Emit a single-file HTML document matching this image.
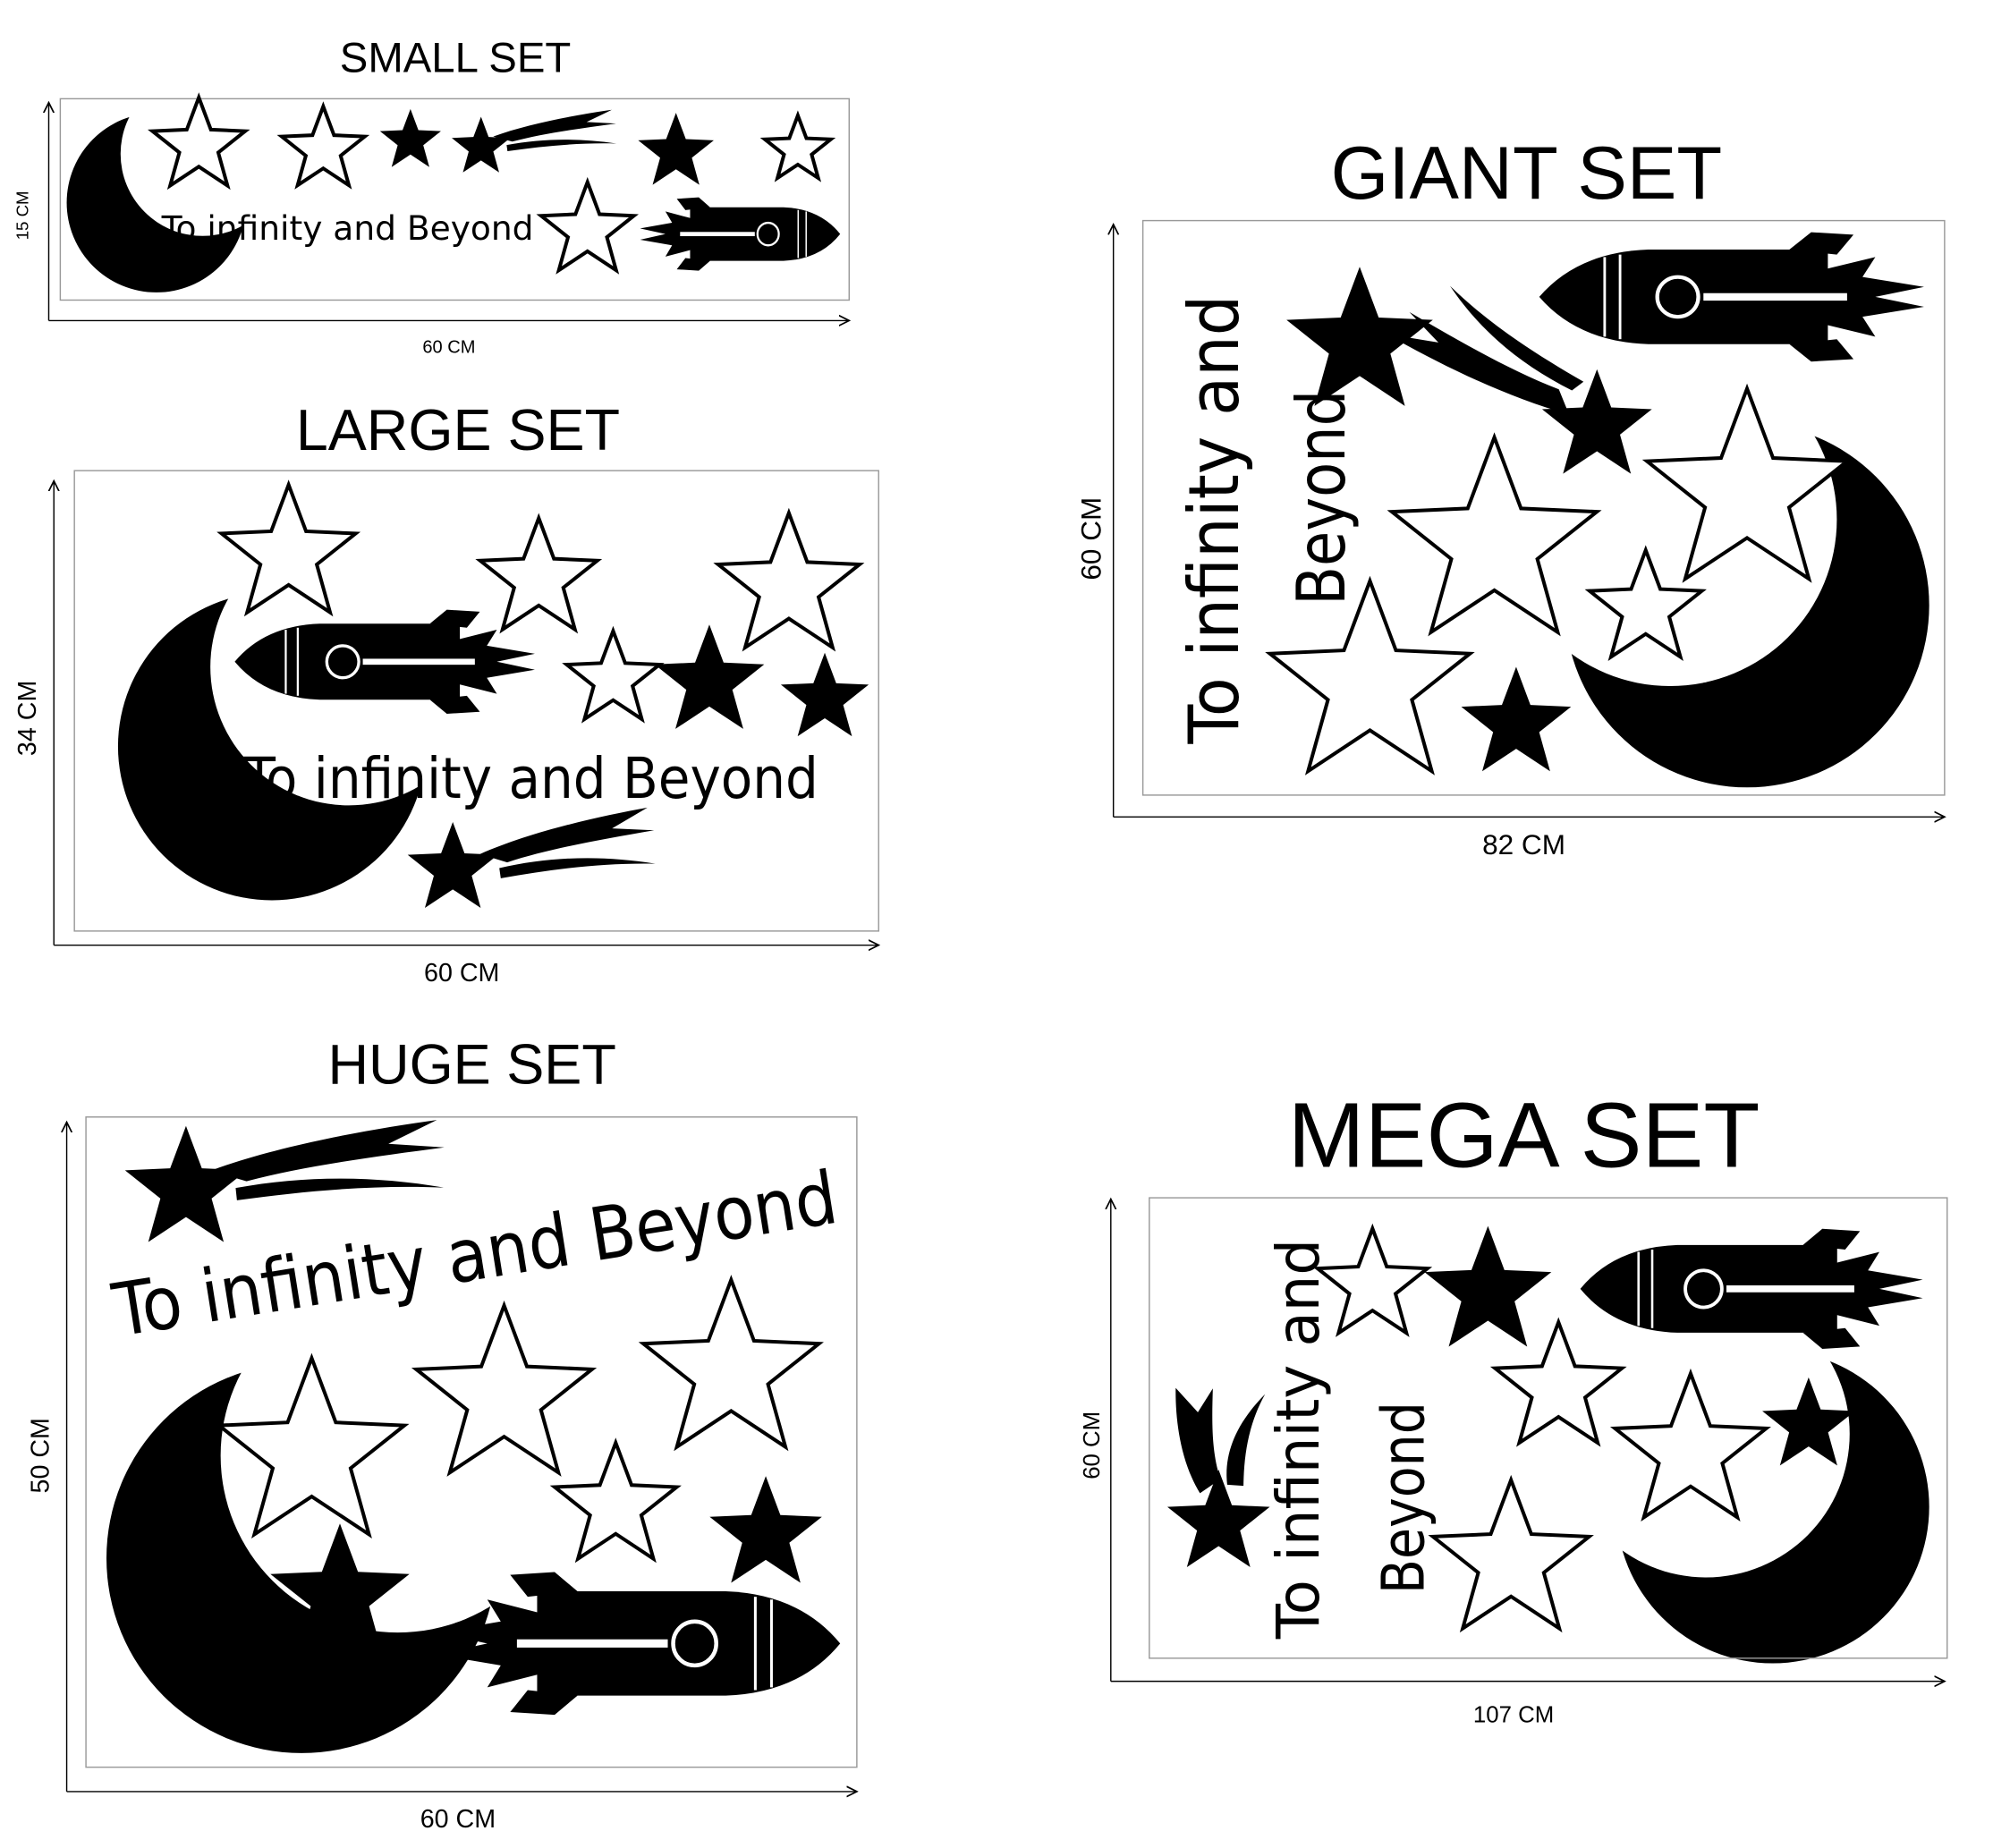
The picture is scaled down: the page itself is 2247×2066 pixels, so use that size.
<!DOCTYPE html>
<html><head><meta charset="utf-8"><style>
html,body{margin:0;padding:0;background:#fff;}
svg{display:block}
text{font-family:"Liberation Sans",sans-serif;fill:#000}
.h{font-family:"DejaVu Sans Condensed","DejaVu Sans","Liberation Sans",sans-serif}
</style></head><body>
<svg width="2247" height="2066" viewBox="0 0 1567 1441" preserveAspectRatio="none" xmlns="http://www.w3.org/2000/svg">
<defs>
<path id="so" d="M0,-1 L0.247,-0.34 L0.951,-0.309 L0.399,0.13 L0.588,0.809 L0,0.42 L-0.588,0.809 L-0.399,0.13 L-0.951,-0.309 L-0.247,-0.34Z" fill="#fff" stroke="#000" stroke-width="4" vector-effect="non-scaling-stroke" stroke-linejoin="miter"/>
<path id="sf" d="M0,-1 L0.247,-0.34 L0.951,-0.309 L0.399,0.13 L0.588,0.809 L0,0.42 L-0.588,0.809 L-0.399,0.13 L-0.951,-0.309 L-0.247,-0.34Z" fill="#000"/>
<g id="rk">
<path d="M0,50 Q30,14 85,12 L225,12 L225,88 L85,88 Q30,86 0,50Z" fill="#000"/>
<path d="M195,12 L212,-2 L245,0 L232,16Z M195,88 L212,102 L245,100 L232,84Z" fill="#000"/>
<path d="M222,28 L262,18 L252,34 L300,42 L262,50 L300,58 L252,66 L262,82 L222,72Z" fill="#000"/>
<circle cx="108" cy="50" r="16" fill="none" stroke="#fff" stroke-width="3"/>
<rect x="128" y="47" width="112" height="6" fill="#fff"/>
<rect x="50" y="18" width="2" height="64" fill="#fff"/><rect x="62" y="16" width="2" height="68" fill="#fff"/>
</g>
<path id="tl" d="M0,-6 C30,-20 70,-28 100,-32 L78,-18 L102,-14 C70,-10 40,-6 15,2 Z M10,6 C40,0 70,2 100,12 C70,8 40,10 10,14Z" fill="#000"/>
<marker id="ar" markerWidth="10" markerHeight="10" refX="8" refY="5" orient="auto" markerUnits="userSpaceOnUse"><path d="M0,1 L8,5 L0,9" fill="none" stroke="#000" stroke-width="1.2"/></marker>
</defs>
<rect width="1567" height="1441" fill="#fff"/>

<g>
<circle cx="122" cy="158" r="70" fill="#000"/><circle cx="158" cy="120" r="64" fill="#fff"/>
<circle cx="212" cy="582" r="120" fill="#000"/><circle cx="272" cy="520" r="108" fill="#fff"/>
<circle cx="235" cy="1215" r="152" fill="#000"/><circle cx="310" cy="1135" r="138" fill="#fff"/>
<circle cx="1362" cy="472" r="142" fill="#000"/><circle cx="1302" cy="405" r="130" fill="#fff"/>
<circle cx="1382" cy="1175" r="122" fill="#000"/><circle cx="1330" cy="1118" r="112" fill="#fff"/>
</g>

<!-- SMALL -->
<text x="355" y="56" font-size="33" text-anchor="middle">SMALL SET</text>
<rect x="47" y="77" width="615" height="157" fill="none" stroke="#999" stroke-width="1"/>
<line x1="38" y1="250" x2="38" y2="80" stroke="#000" marker-end="url(#ar)"/>
<line x1="38" y1="250" x2="662" y2="250" stroke="#000" marker-end="url(#ar)"/>
<text x="22" y="168" font-size="13" text-anchor="middle" transform="rotate(-90 22 168)">15 CM</text>
<text x="350" y="275" font-size="14" text-anchor="middle">60 CM</text>
<use href="#so" transform="translate(155,114) scale(38)"/>
<use href="#so" transform="translate(252,117) scale(34)"/>
<use href="#sf" transform="translate(320,110) scale(25)"/>
<use href="#tl" transform="translate(385,110) scale(0.95,0.6) rotate(-5)"/>
<use href="#sf" transform="translate(375,115) scale(24)"/>
<use href="#sf" transform="translate(527,119) scale(31)"/>
<use href="#so" transform="translate(622,117) scale(27)"/>
<use href="#so" transform="translate(458,180) scale(38)"/>
<use href="#rk" transform="translate(655,155) scale(-0.52,0.55)"/>
<text class="h" x="126" y="187" font-size="26" textLength="290" lengthAdjust="spacingAndGlyphs">To infinity and Beyond</text>

<!-- LARGE -->
<text x="357" y="351" font-size="45" text-anchor="middle">LARGE SET</text>
<rect x="58" y="367" width="627" height="359" fill="none" stroke="#999" stroke-width="1"/>
<line x1="42" y1="737" x2="42" y2="375" stroke="#000" marker-end="url(#ar)"/>
<line x1="42" y1="737" x2="685" y2="737" stroke="#000" marker-end="url(#ar)"/>
<text x="28" y="560" font-size="20" text-anchor="middle" transform="rotate(-90 28 560)">34 CM</text>
<text x="360" y="765" font-size="20" text-anchor="middle">60 CM</text>
<use href="#so" transform="translate(225,433) scale(55)"/>
<use href="#so" transform="translate(420,452) scale(48)"/>
<use href="#so" transform="translate(615,458) scale(58)"/>
<use href="#so" transform="translate(478,530) scale(38)"/>
<use href="#sf" transform="translate(553,532) scale(45)"/>
<use href="#sf" transform="translate(643,545) scale(36)"/>
<use href="#rk" transform="translate(183,477) scale(0.78,0.78)"/>
<text class="h" x="190" y="622" font-size="44" textLength="448" lengthAdjust="spacingAndGlyphs">To infinity and Beyond</text>
<use href="#tl" transform="translate(375,672) scale(1.35,1.0) rotate(-6)"/>
<use href="#sf" transform="translate(353,678) scale(37)"/>

<!-- HUGE -->
<text x="368" y="845" font-size="44" text-anchor="middle">HUGE SET</text>
<rect x="67" y="871" width="601" height="507" fill="none" stroke="#999" stroke-width="1"/>
<line x1="52" y1="1397" x2="52" y2="875" stroke="#000" marker-end="url(#ar)"/>
<line x1="52" y1="1397" x2="668" y2="1397" stroke="#000" marker-end="url(#ar)"/>
<text x="38" y="1135" font-size="20" text-anchor="middle" transform="rotate(-90 38 1135)">50 CM</text>
<text x="357" y="1425" font-size="20" text-anchor="middle">60 CM</text>
<use href="#tl" transform="translate(165,920) scale(1.8,1.2) rotate(-4)"/>
<use href="#sf" transform="translate(145,928) scale(50)"/>
<text class="h" x="92" y="1042" font-size="57" textLength="570" lengthAdjust="spacingAndGlyphs" transform="rotate(-9 92 1042)">To infinity and Beyond</text>
<use href="#so" transform="translate(243,1135) scale(76)"/>
<use href="#so" transform="translate(393,1090) scale(72)"/>
<use href="#so" transform="translate(570,1070) scale(72)"/>
<use href="#so" transform="translate(480,1175) scale(50)"/>
<use href="#sf" transform="translate(265,1245) scale(57)"/>
<use href="#sf" transform="translate(597,1197) scale(46)"/>
<use href="#rk" transform="translate(655,1228) scale(-1.05,1.07)"/>

<!-- GIANT -->
<text x="1190" y="155" font-size="58" text-anchor="middle">GIANT SET</text>
<rect x="891" y="172" width="625" height="448" fill="none" stroke="#999" stroke-width="1"/>
<line x1="868" y1="637" x2="868" y2="175" stroke="#000" marker-end="url(#ar)"/>
<line x1="868" y1="637" x2="1516" y2="637" stroke="#000" marker-end="url(#ar)"/>
<text x="858" y="420" font-size="22" text-anchor="middle" transform="rotate(-90 858 420)">60 CM</text>
<text x="1188" y="666" font-size="22" text-anchor="middle">82 CM</text>
<use href="#rk" transform="translate(1200,183) scale(1.0,0.97)"/>
<use href="#so" transform="translate(1165,425) scale(84)"/>
<use href="#so" transform="translate(1362,385) scale(82)"/>
<use href="#so" transform="translate(1068,535) scale(82)"/>
<use href="#so" transform="translate(1283,475) scale(46)"/>
<use href="#sf" transform="translate(1060,268) scale(60)"/>
<use href="#tl" transform="translate(1230,318) scale(1.6,1.2) rotate(-135)"/>
<use href="#sf" transform="translate(1245,333) scale(45)"/>
<use href="#sf" transform="translate(1182,565) scale(45)"/>
<text class="h" x="965" y="580" font-size="54" textLength="350" lengthAdjust="spacingAndGlyphs" transform="rotate(-90 965 580)">To infinity and</text>
<text class="h" x="1048" y="472" font-size="52" textLength="168" lengthAdjust="spacingAndGlyphs" transform="rotate(-90 1048 472)">Beyond</text>

<!-- MEGA -->
<text x="1188" y="910" font-size="72" text-anchor="middle">MEGA SET</text>
<rect x="896" y="934" width="622" height="359" fill="none" stroke="#999" stroke-width="1"/>
<line x1="866" y1="1311" x2="866" y2="935" stroke="#000" marker-end="url(#ar)"/>
<line x1="866" y1="1311" x2="1516" y2="1311" stroke="#000" marker-end="url(#ar)"/>
<text x="857" y="1127" font-size="18" text-anchor="middle" transform="rotate(-90 857 1127)">60 CM</text>
<text x="1180" y="1343" font-size="18" text-anchor="middle">107 CM</text>
<use href="#rk" transform="translate(1232,960) scale(0.89,0.9)"/>
<use href="#so" transform="translate(1070,1003) scale(45)"/>
<use href="#so" transform="translate(1215,1083) scale(52)"/>
<use href="#so" transform="translate(1318,1133) scale(62)"/>
<use href="#so" transform="translate(1178,1218) scale(64)"/>
<use href="#sf" transform="translate(1160,1008) scale(52)"/>
<use href="#sf" transform="translate(1410,1112) scale(38)"/>
<use href="#tl" transform="translate(945,1165) scale(1.6,0.8) rotate(-82)"/>
<use href="#sf" transform="translate(950,1188) scale(42)"/>
<text class="h" x="1028" y="1278" font-size="46" textLength="312" lengthAdjust="spacingAndGlyphs" transform="rotate(-90 1028 1278)">To infinity and</text>
<text class="h" x="1110" y="1243" font-size="46" textLength="150" lengthAdjust="spacingAndGlyphs" transform="rotate(-90 1110 1243)">Beyond</text>
</svg>
</body></html>
